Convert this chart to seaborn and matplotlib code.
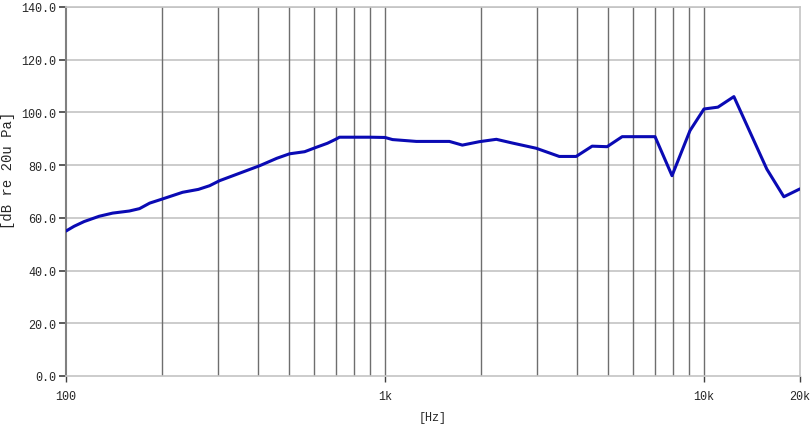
# Frequency response curve, log frequency axis
import matplotlib
matplotlib.use("Agg")
import matplotlib.pyplot as plt
import matplotlib.ticker as mticker
import seaborn as sns
import pandas as pd

# values
freq_hz = [100, 106, 114, 127, 140, 158, 170, 183, 201, 232, 260, 282, 303,
           405, 458, 502, 560, 610, 660, 700, 720, 800, 900, 1000, 1056,
           1254, 1592, 1748, 1976, 2234, 2506, 2980, 3518, 3975, 4460, 4970,
           5540, 7025, 7940, 9040, 10000, 11060, 12410, 15740, 17800, 20000]
level_db = [55.0, 56.8, 58.6, 60.6, 61.8, 62.6, 63.5, 65.6, 67.2, 69.7, 70.8,
            72.2, 74.1, 79.8, 82.6, 84.3, 85.1, 86.8, 88.3, 89.8, 90.6, 90.6,
            90.6, 90.5, 89.7, 89.0, 89.0, 87.6, 88.9, 89.8, 88.4, 86.4, 83.3,
            83.3, 87.2, 87.0, 90.8, 90.8, 76.0, 93.1, 101.3, 102.0, 106.0,
            78.5, 68.0, 71.0]

x_ticks = [100, 1000, 10000, 20000]
x_tick_labels = ["100", "1k", "10k", "20k"]
grid_freqs = [200, 300, 400, 500, 600, 700, 800, 900,
              1000, 2000, 3000, 4000, 5000, 6000, 7000, 8000, 9000, 10000]
y_ticks = [0, 20, 40, 60, 80, 100, 120, 140]

df = pd.DataFrame({"freq": freq_hz, "level": level_db})

sns.set_style("white")
plt.rcParams["font.family"] = ["Liberation Mono", "DejaVu Sans Mono"]

fig = plt.figure(figsize=(8.11, 4.27), dpi=100)
ax = fig.add_axes([66 / 811, 50 / 427, 734 / 811, 369 / 427])

ax.set_xscale("log")
ax.set_xlim(100, 20000)
ax.set_ylim(0, 140)

# grid: light horizontal, dark vertical
for y in y_ticks[1:]:
    ax.axhline(y, color="#c4c4c4", lw=1.2, zorder=1)
for f in grid_freqs:
    ax.axvline(f, color="#6e6e6e", lw=1.0, zorder=1)

sns.lineplot(data=df, x="freq", y="level", ax=ax, color="#0a0ab4",
             lw=2.2, zorder=3, legend=False)

ax.set_xticks(x_ticks)
ax.set_xticklabels(x_tick_labels)
ax.xaxis.set_minor_locator(mticker.NullLocator())
ax.set_yticks(y_ticks)
ax.set_yticklabels([f"{v:.1f}" for v in y_ticks])

ax.tick_params(axis="y", direction="out", length=5, width=1.2,
               color="#404040", labelsize=8.5, pad=2, left=True)
ax.tick_params(axis="x", direction="out", length=4, width=1.0,
               color="#404040", labelsize=8.5, pad=6, bottom=True)

for side in ["top", "right", "bottom"]:
    ax.spines[side].set_color("#c4c4c4")
    ax.spines[side].set_linewidth(1.2)
ax.spines["left"].set_color("#808080")
ax.spines["left"].set_linewidth(1.5)

ax.set_xlabel("[Hz]", fontsize=8.5)
ax.xaxis.set_label_coords(0.5, -0.095)
ax.set_ylabel("[dB re 20u Pa]", fontsize=10)
ax.yaxis.set_label_coords(-0.069, 0.56)

fig.savefig("out.png", dpi=100)
